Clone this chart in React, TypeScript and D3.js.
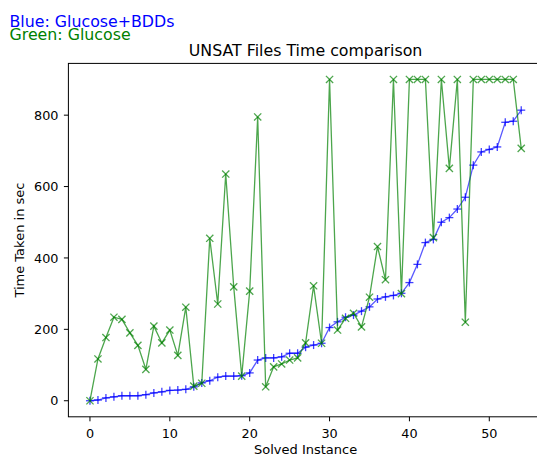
import React from "react";
import * as d3 from "d3";

const xTicks = [0, 10, 20, 30, 40, 50];
const yTicks = [0, 200, 400, 600, 800];

const glucoseBdd = [
  0, 2, 8, 11, 14, 14, 14, 17, 22, 25, 29, 30, 32, 39, 50, 56, 66, 69, 69, 70,
  78, 114, 120, 120, 123, 133, 133, 150, 156, 161, 205, 221, 234, 240, 251, 263,
  285, 291, 295, 301, 331, 382, 443, 452, 500, 513, 537, 570, 660, 697, 704, 711,
  780, 783, 814,
];

const glucose = [
  0, 117, 177, 234, 228, 190, 155, 88, 209, 162, 198, 127, 262, 41, 49, 455, 271,
  635, 319, 69, 307, 795, 39, 95, 103, 114, 120, 162, 322, 161, 900, 198, 231, 245,
  207, 290, 432, 339, 900, 300, 900, 900, 900, 457, 900, 651, 900, 220, 900, 900,
  900, 900, 900, 900, 707,
];

const W = 537;
const H = 456;
const FONT = "DejaVu Sans, sans-serif";

export default function App() {
  const x = d3.scaleLinear().domain([-2.7, 56.7]).range([68.4, 542.8]);
  const y = d3.scaleLinear().domain([-45, 945]).range([416.8, 63.4]);
  const line = d3
    .line<number>()
    .x((_, i) => x(i))
    .y((d) => y(d));
  const mp = 4;
  const mx = 3.6;
  const axisColor = "#000";

  return (
    <div style={{ position: "absolute", left: 0, top: 0 }}>
      <svg width={W} height={H} style={{ display: "block", overflow: "hidden" }} fontFamily={FONT}>
        <rect x={0} y={0} width={W} height={H} fill="#fff" />
        <text x={9.5} y={26.7} fontSize={15.8} fill="#0000ff">Blue: Glucose+BDDs</text>
        <text x={9.5} y={40.3} fontSize={15.8} fill="#008000">Green: Glucose</text>
        <text x={305.6} y={56} fontSize={15.8} textAnchor="middle" fill="#000">
          UNSAT Files Time comparison
        </text>

        {/* blue series */}
        <path d={line(glucoseBdd) || ""} fill="none" stroke="#0000ff" strokeOpacity={0.65} strokeWidth={1.3} />
        {glucoseBdd.map((v, i) => (
          <g key={"b" + i} stroke="#0000ff" strokeOpacity={0.75} strokeWidth={1.3}>
            <line x1={x(i) - mp} x2={x(i) + mp} y1={y(v)} y2={y(v)} />
            <line x1={x(i)} x2={x(i)} y1={y(v) - mp} y2={y(v) + mp} />
          </g>
        ))}

        {/* green series */}
        <path d={line(glucose) || ""} fill="none" stroke="#008000" strokeOpacity={0.7} strokeWidth={1.3} />
        {glucose.map((v, i) => (
          <g key={"g" + i} stroke="#008000" strokeOpacity={0.7} strokeWidth={1.3}>
            <line x1={x(i) - mx} x2={x(i) + mx} y1={y(v) - mx} y2={y(v) + mx} />
            <line x1={x(i) - mx} x2={x(i) + mx} y1={y(v) + mx} y2={y(v) - mx} />
          </g>
        ))}

        {/* frame */}
        <rect x={68.4} y={63.4} width={542.8 - 68.4} height={416.8 - 63.4} fill="none" stroke={axisColor} strokeWidth={1} />

        {/* x axis */}
        {xTicks.map((t) => (
          <g key={"xt" + t}>
            <line x1={x(t)} x2={x(t)} y1={416.8} y2={421.3} stroke={axisColor} strokeWidth={1} />
            <text x={x(t)} y={438} fontSize={12.8} textAnchor="middle" fill="#000">{t}</text>
          </g>
        ))}
        <text x={305.6} y={454} fontSize={13} textAnchor="middle" fill="#000">Solved Instance</text>

        {/* y axis */}
        {yTicks.map((t) => (
          <g key={"yt" + t}>
            <line x1={63.9} x2={68.4} y1={y(t)} y2={y(t)} stroke={axisColor} strokeWidth={1} />
            <text x={58.5} y={y(t) + 4.6} fontSize={12.8} textAnchor="end" fill="#000">{t}</text>
          </g>
        ))}
        <text
          transform={`translate(23.5, ${(63.4 + 416.8) / 2}) rotate(-90)`}
          fontSize={13}
          textAnchor="middle"
          fill="#000"
        >
          Time Taken in sec
        </text>
      </svg>
    </div>
  );
}
